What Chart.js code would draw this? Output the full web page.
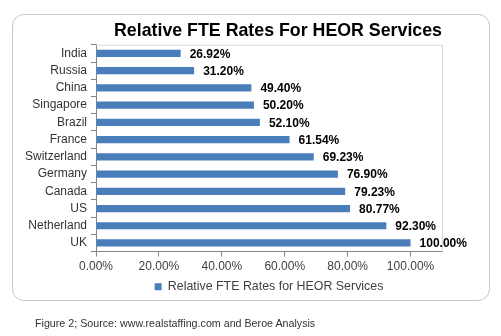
<!DOCTYPE html>
<html><head><meta charset="utf-8">
<script src="https://cdn.jsdelivr.net/npm/chart.js@4"></script>
<style>
html,body{margin:0;padding:0;background:#fff;width:501px;height:336px;overflow:hidden;font-family:"Liberation Sans",Arial,sans-serif;}
#frame{position:absolute;left:12px;top:14px;width:476px;height:285px;border:1.5px solid #c8c8c8;border-radius:12px;}
#wrap{position:absolute;left:0;top:0;width:501px;height:336px;}
#caption{position:absolute;left:35px;top:317px;font-size:10.7px;color:#333;white-space:nowrap;}
</style></head><body>
<div id="frame"></div>
<div id="wrap"><canvas id="c" width="501" height="336"></canvas></div>
<div id="caption">Figure 2; Source: www.realstaffing.com and Beroe Analysis</div>
<script>
const chartTitle = 'Relative FTE Rates For HEOR Services';
const seriesName = 'Relative FTE Rates for HEOR Services';
const categories = ['India','Russia','China','Singapore','Brazil','France','Switzerland','Germany','Canada','US','Netherland','UK'];
const values = [26.92, 31.20, 49.40, 50.20, 52.10, 61.54, 69.23, 76.90, 79.23, 80.77, 92.30, 100.00];
const xTickValues = [0, 20, 40, 60, 80, 100];

const FONT = '"Liberation Sans", Arial, sans-serif';

const plotBorder = {
  id: 'plotBorder',
  beforeDatasetsDraw(chart) {
    const {ctx, chartArea: a} = chart;
    ctx.save();
    ctx.strokeStyle = '#d9d9d9';
    ctx.lineWidth = 1;
    ctx.beginPath();
    ctx.moveTo(a.left, a.top + 0.5);
    ctx.lineTo(a.right + 0.5, a.top + 0.5);
    ctx.lineTo(a.right + 0.5, a.bottom);
    ctx.stroke();
    ctx.restore();
  }
};

const valueLabels = {
  id: 'valueLabels',
  afterDatasetsDraw(chart) {
    const {ctx} = chart;
    const meta = chart.getDatasetMeta(0);
    ctx.save();
    ctx.font = 'bold 12px ' + FONT;
    ctx.fillStyle = '#000';
    ctx.textBaseline = 'middle';
    ctx.textAlign = 'left';
    meta.data.forEach((bar, i) => {
      ctx.fillText(values[i].toFixed(2) + '%', bar.x + 9, bar.y + 1);
    });
    ctx.restore();
  }
};

const titleShift = {
  id: 'titleShift',
  afterLayout(chart) {
    if (chart.titleBlock) {
      chart.titleBlock.left += 18;
    }
  }
};

new Chart(document.getElementById('c'), {
  type: 'bar',
  data: {
    labels: categories,
    datasets: [{
      label: seriesName,
      data: values,
      backgroundColor: '#4a7ebb',
      borderWidth: 0,
      barPercentage: 0.42,
      categoryPercentage: 1
    }]
  },
  options: {
    indexAxis: 'y',
    responsive: false,
    animation: false,
    devicePixelRatio: 1,
    layout: {padding: {left: 0, right: 59, top: 13, bottom: 33}},
    plugins: {
      title: {
        display: true,
        text: chartTitle,
        fullSize: false,
        color: '#000',
        font: {family: FONT, size: 19, weight: 'bold'},
        padding: {top: 6, bottom: 3}
      },
      legend: {
        position: 'bottom',
        fullSize: false,
        labels: {
          boxWidth: 7,
          boxHeight: 7,
          color: '#404040',
          font: {family: FONT, size: 12.4},
          padding: 8
        }
      },
      tooltip: {enabled: false}
    },
    scales: {
      x: {
        type: 'linear',
        min: 0,
        max: 110,
        afterBuildTicks(scale) {
          scale.ticks = xTickValues.map(v => ({value: v}));
        },
        afterFit(scale) { scale.height = 21; },
        grid: {drawOnChartArea: false, drawTicks: true, tickLength: 5, color: '#868686'},
        border: {color: '#868686'},
        ticks: {
          color: '#404040',
          font: {family: FONT, size: 12},
          padding: 3,
          maxRotation: 0,
          callback: v => Number(v).toFixed(2) + '%'
        }
      },
      y: {
        type: 'category',
        afterFit(scale) { scale.width = 96; },
        grid: {drawOnChartArea: false, drawTicks: true, tickLength: 5, color: '#868686', offset: true},
        border: {color: '#868686'},
        ticks: {
          color: '#333',
          font: {family: FONT, size: 12},
          padding: 4,
          autoSkip: false
        }
      }
    }
  },
  plugins: [plotBorder, valueLabels, titleShift]
});
</script>
</body></html>
